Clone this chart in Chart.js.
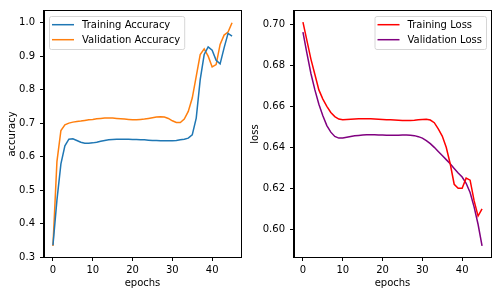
<!DOCTYPE html>
<html>
<head>
<meta charset="utf-8">
<script src="https://cdn.jsdelivr.net/npm/chart.js@4.4.0/dist/chart.umd.min.js"></script>
<style>
  body { margin: 0; background: #fff; }
  #wrap { position: relative; width: 494px; height: 292px; }
  canvas { position: absolute; top: 0; }
</style>
</head>
<body>
<div id="wrap">
  <canvas id="accChart" width="247" height="292" style="left:0"></canvas>
  <canvas id="lossChart" width="247" height="292" style="left:247px"></canvas>
</div>
<script>
const epochs = [];
for (let i = 0; i <= 45; i++) epochs.push(i);

const trainAcc = [0.335, 0.47, 0.578, 0.632, 0.652, 0.653, 0.648, 0.643, 0.640, 0.640,
  0.641, 0.643, 0.646, 0.648, 0.650, 0.651, 0.652, 0.652, 0.652, 0.652,
  0.651, 0.651, 0.650, 0.650, 0.649, 0.648, 0.648, 0.647, 0.647, 0.647,
  0.647, 0.648, 0.650, 0.652, 0.655, 0.665, 0.715, 0.83, 0.905, 0.928,
  0.918, 0.888, 0.877, 0.925, 0.968, 0.960];
const valAcc = [0.333, 0.585, 0.678, 0.695, 0.700, 0.703, 0.705, 0.706, 0.708, 0.710,
  0.711, 0.713, 0.714, 0.715, 0.715, 0.715, 0.714, 0.713, 0.712, 0.711,
  0.710, 0.710, 0.711, 0.712, 0.714, 0.716, 0.718, 0.719, 0.718, 0.714,
  0.707, 0.702, 0.702, 0.712, 0.735, 0.775, 0.84, 0.905, 0.922, 0.900,
  0.868, 0.875, 0.935, 0.963, 0.972, 1.0];
const trainLoss = [0.701, 0.692, 0.683, 0.6755, 0.668, 0.6635, 0.660, 0.657, 0.655, 0.6538,
  0.6535, 0.6536, 0.6537, 0.6538, 0.6539, 0.6539, 0.6539, 0.6539, 0.6538, 0.6537,
  0.6536, 0.6535, 0.6534, 0.6533, 0.6532, 0.6531, 0.6531, 0.6531, 0.6532, 0.6534,
  0.6536, 0.6537, 0.6533, 0.652, 0.649, 0.6455, 0.640, 0.632, 0.622, 0.620,
  0.620, 0.625, 0.624, 0.614, 0.6065, 0.610];
const valLoss = [0.6962, 0.6858, 0.676, 0.668, 0.661, 0.6554, 0.6506, 0.6474, 0.6453, 0.6445,
  0.6445, 0.6449, 0.6453, 0.6456, 0.6458, 0.6460, 0.6461, 0.6461, 0.6461, 0.6460,
  0.6460, 0.6459, 0.6459, 0.6459, 0.6459, 0.6460, 0.6460, 0.6459, 0.6457, 0.6452,
  0.6445, 0.6433, 0.6418, 0.640, 0.638, 0.636, 0.634, 0.632, 0.6297, 0.6275,
  0.6255, 0.6225, 0.618, 0.611, 0.6025, 0.592];

const xTicks = [0, 10, 20, 30, 40];
const accTicks = [0.3, 0.4, 0.5, 0.6, 0.7, 0.8, 0.9, 1.0];
const lossTicks = [0.60, 0.62, 0.64, 0.66, 0.68, 0.70];

const FONT = "'DejaVu Sans', sans-serif";
Chart.defaults.font.family = FONT;
Chart.defaults.font.size = 10;
Chart.defaults.color = '#000';

function pts(ys) {
  return epochs.map((e, i) => ({ x: e, y: ys[i] }));
}

// box around the plot area, like matplotlib spines
const frame = {
  id: 'frame',
  afterDraw(chart) {
    const a = chart.chartArea, ctx = chart.ctx;
    ctx.save();
    ctx.strokeStyle = '#000';
    ctx.lineWidth = 1;
    ctx.strokeRect(a.left - 0.5, a.top - 0.5, a.right - a.left + 1, a.bottom - a.top + 1);
    ctx.restore();
  }
};

// legend drawn inside the axes
const innerLegend = {
  id: 'innerLegend',
  afterDraw(chart, args, opts) {
    const a = chart.chartArea, ctx = chart.ctx;
    const sets = chart.data.datasets;
    ctx.save();
    ctx.font = '10px ' + FONT;
    let tw = 0;
    sets.forEach(d => { tw = Math.max(tw, ctx.measureText(d.label).width); });
    const w = 33 + tw + 4, h = 33;
    const x0 = opts.side === 'right' ? a.right - 5 - w : a.left + 5;
    const y0 = a.top + 5;
    ctx.beginPath();
    ctx.roundRect(x0 + 0.5, y0 + 0.5, w, h, 2);
    ctx.fillStyle = 'rgba(255,255,255,0.8)';
    ctx.fill();
    ctx.strokeStyle = '#d6d6d6';
    ctx.lineWidth = 1;
    ctx.stroke();
    sets.forEach((d, i) => {
      const cy = y0 + 8.7 + i * 15;
      ctx.beginPath();
      ctx.moveTo(x0 + 3, cy);
      ctx.lineTo(x0 + 25, cy);
      ctx.strokeStyle = d.borderColor;
      ctx.lineWidth = 1.5;
      ctx.stroke();
      ctx.fillStyle = '#000';
      ctx.textBaseline = 'middle';
      ctx.fillText(d.label, x0 + 33, cy + 0.5);
    });
    ctx.restore();
  }
};

function axisOpts(ticks, fmt, extra) {
  return Object.assign({
    type: 'linear',
    grid: { display: true, drawOnChartArea: false, drawTicks: true, tickLength: 4, tickColor: '#000', tickWidth: 1 },
    border: { display: true, color: '#000', width: 1 },
    afterBuildTicks: s => { s.ticks = ticks.map(v => ({ value: v })); },
    ticks: { callback: fmt, maxRotation: 0, autoSkip: false }
  }, extra);
}

function makeChart(id, sets, yMin, yMax, yTicks, yFmt, yTitle, yWidth, titlePad, padRight, side) {
  return new Chart(document.getElementById(id), {
    type: 'line',
    data: { datasets: sets },
    plugins: [frame, innerLegend],
    options: {
      responsive: false,
      animation: false,
      layout: { padding: { left: 0, top: 7, right: padRight, bottom: 0 } },
      elements: { point: { radius: 0 }, line: { tension: 0, borderWidth: 1.5 } },
      plugins: { legend: { display: false }, tooltip: { enabled: false }, innerLegend: { side: side } },
      scales: {
        x: axisOpts(xTicks, v => v, {
          min: -2.25, max: 47.25,
          afterFit: s => { s.height = 35; },
          ticks: { callback: v => v, maxRotation: 0, autoSkip: false, padding: 3 },
          title: { display: true, text: 'epochs', padding: { top: 0, bottom: 3 } }
        }),
        y: axisOpts(yTicks, yFmt, {
          min: yMin, max: yMax,
          afterFit: s => { s.width = yWidth; },
          ticks: { callback: yFmt, autoSkip: false, padding: 5 },
          title: { display: true, text: yTitle, padding: { top: titlePad, bottom: 0 } }
        })
      }
    }
  });
}

makeChart('accChart', [
  { label: 'Training Accuracy', data: pts(trainAcc), borderColor: '#1f77b4' },
  { label: 'Validation Accuracy', data: pts(valAcc), borderColor: '#ff7f0e' }
], 0.3, 1.035, accTicks, v => v.toFixed(1), 'accuracy', 44, 6, 6, 'left');

makeChart('lossChart', [
  { label: 'Training Loss', data: pts(trainLoss), borderColor: '#ff0000' },
  { label: 'Validation Loss', data: pts(valLoss), borderColor: '#800080' }
], 0.58655, 0.70645, lossTicks, v => v.toFixed(2), 'loss', 47, 2, 3, 'right');
</script>
</body>
</html>
